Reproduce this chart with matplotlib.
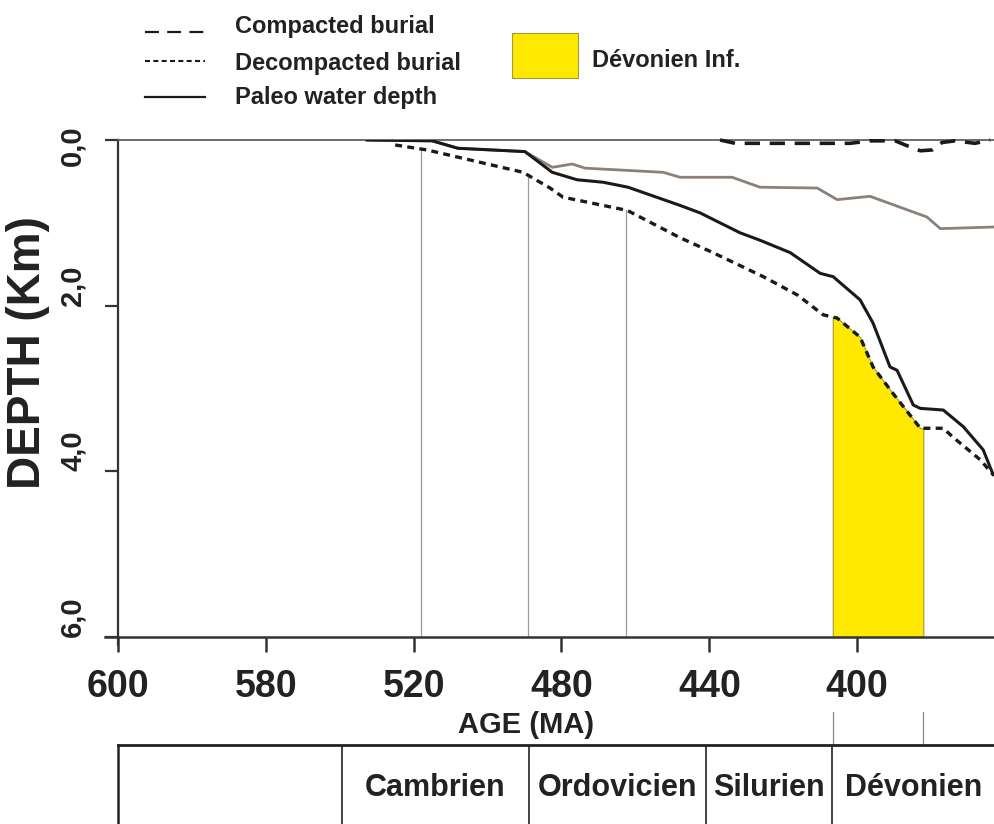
import matplotlib
matplotlib.use("Agg")
import matplotlib.pyplot as plt
from matplotlib.lines import Line2D
from matplotlib.patches import Rectangle
import numpy as np

plt.rcParams['font.family'] = ['Liberation Sans', 'DejaVu Sans']
plt.rcParams['font.weight'] = 'bold'
plt.rcParams['lines.scale_dashes'] = False

TXT = '#222222'

# --- data (age in Ma, depth in km) ---
gray_age = [532.6, 515.0, 508.0, 489.9, 482.5, 477.1, 473.6, 452.5, 447.9,
            433.8, 426.3, 410.8, 405.4, 396.5, 381.1, 377.5, 362.7]
gray_depth = [0.0, 0.01, 0.10, 0.14, 0.33, 0.29, 0.34, 0.39, 0.45,
              0.45, 0.57, 0.58, 0.72, 0.68, 0.93, 1.07, 1.05]

water_age = [532.6, 515.0, 508.0, 489.9, 482.5, 475.8, 468.7, 462.0, 447.9,
             442.5, 431.7, 426.3, 418.1, 410.0, 406.5, 399.2, 395.7, 391.1,
             389.2, 384.8, 382.9, 376.7, 371.3, 365.9, 363.2]
water_depth = [0.0, 0.01, 0.10, 0.14, 0.39, 0.48, 0.51, 0.57, 0.79,
               0.88, 1.12, 1.21, 1.36, 1.61, 1.65, 1.93, 2.21, 2.74,
               2.78, 3.20, 3.24, 3.26, 3.46, 3.74, 4.04]

decomp_age = [525.0, 516.4, 490.4, 483.1, 479.6, 462.2, 447.9, 439.0, 425.4,
              416.2, 409.2, 405.4, 399.2, 395.7, 390.3, 382.9, 376.7, 374.0,
              366.7, 363.2]
decomp_depth = [0.06, 0.12, 0.39, 0.58, 0.69, 0.85, 1.18, 1.36, 1.65,
                1.87, 2.11, 2.15, 2.38, 2.74, 3.06, 3.48, 3.48, 3.59,
                3.86, 4.04]

comp_age = [437.1, 433.0, 401.9, 396.5, 389.7, 387.0, 382.9, 379.7, 377.0,
            373.5, 368.1, 364.0]
comp_depth = [0.0, 0.04, 0.04, 0.01, 0.01, 0.06, 0.13, 0.12, 0.03,
              0.01, 0.04, 0.0]

stage_lines = [518.0, 489.0, 462.5]
dev_inf = (406.6, 382.1)

tick_pos = [600, 560, 520, 480, 440, 400]
tick_labels = ['600', '580', '520', '480', '440', '400']
ytick_pos = [0, 2, 4, 6]
ytick_labels = ['0,0', '2,0', '4,0', '6,0']

periods = ['Cambrien', 'Ordovicien', 'Silurien', 'Dévonien']
period_bounds = [539.4, 488.8, 440.9, 406.8, 362.7]

x_left, x_right = 600.0, 362.7

W, H = 995, 824
fig = plt.figure(figsize=(W / 100, H / 100), dpi=100)

def fx(px):
    return px / W

def fy(py):
    return 1 - py / H

ax = fig.add_axes([fx(118), fy(637), fx(995) - fx(118), fy(140) - fy(637)])
ax.set_xlim(x_left, x_right)
ax.set_ylim(6, 0)

# yellow interval (Dévonien Inf.) under the decompacted curve
fa = [dev_inf[0]] + [a for a in decomp_age if dev_inf[1] < a < dev_inf[0]] + [dev_inf[1]]
fd = np.interp(fa, decomp_age[::-1], decomp_depth[::-1])
ax.fill_between(fa, fd, 6, color='#ffe900', edgecolor='#a09a3c', lw=0.8, zorder=1)

# thin stage lines from the decompacted curve to the bottom
for a in stage_lines:
    top = np.interp(a, decomp_age[::-1], decomp_depth[::-1])
    ax.plot([a, a], [top, 6], color='#9a9a9a', lw=0.9, zorder=1)

ax.plot(gray_age, gray_depth, color='#8c8079', lw=2.0, zorder=2)
ax.plot(water_age, water_depth, color='#1a1a1a', lw=2.2, zorder=3)
ax.plot(decomp_age, decomp_depth, color='#1a1a1a', lw=2.4, dashes=(5, 3.8), zorder=3)
ax.plot(comp_age, comp_depth, color='#1a1a1a', lw=2.6, dashes=(11, 7), zorder=3,
        clip_on=False)

# spines
for s in ['right']:
    ax.spines[s].set_visible(False)
ax.spines['top'].set_color('#555555')
ax.spines['top'].set_linewidth(1.2)
ax.spines['left'].set_color('#333333')
ax.spines['left'].set_linewidth(1.6)
ax.spines['bottom'].set_color('#333333')
ax.spines['bottom'].set_linewidth(1.8)
# small overhangs at the lower-left corner
ax.plot([-0.015, 0], [0, 0], transform=ax.transAxes, color='#333333', lw=1.8, clip_on=False)
ax.plot([0, 0], [0, -0.016], transform=ax.transAxes, color='#333333', lw=1.6, clip_on=False)

ax.set_xticks(tick_pos)
ax.set_xticklabels(tick_labels, fontsize=27, fontweight='bold', color=TXT)
ax.tick_params(axis='x', direction='out', length=11, width=1.8, color='#333333', pad=12)

ax.set_yticks(ytick_pos)
ax.set_yticklabels([])
ax.tick_params(axis='y', direction='out', length=9.5, width=1.6, color='#333333')
ytr = ax.get_yaxis_transform()
for v, lab in zip(ytick_pos, ytick_labels):
    va = 'center' if v == 0 else 'bottom'
    ax.text(-0.0355, v + (0.07 if v == 0 else 0), lab, transform=ytr, rotation=90,
            ha='right', va=va, fontsize=21, fontweight='bold', color=TXT)

fig.text(fx(28), fy(353), 'DEPTH (Km)', rotation=90, ha='center', va='center',
         fontsize=33, fontweight='bold', color=TXT)
fig.text(fx(526), fy(733), 'AGE (MA)', ha='center', va='baseline',
         fontsize=21, fontweight='bold', color=TXT)

# --- stratigraphic table below ---
tb = fig.add_axes([fx(118), fy(874), fx(995) - fx(118), fy(745) - fy(874)])
tb.set_xlim(x_left, x_right)
tb.set_ylim(0, 1)
tb.set_xticks([])
tb.set_yticks([])
for s in ['right', 'bottom']:
    tb.spines[s].set_visible(False)
tb.spines['top'].set_linewidth(2.0)
tb.spines['left'].set_linewidth(1.8)
tb.spines['top'].set_color('#222222')
tb.spines['left'].set_color('#222222')
tb.patch.set_alpha(0)
for b in period_bounds[:-1]:
    tb.axvline(b, color='#222222', lw=1.2)
for i, name in enumerate(periods):
    c = (period_bounds[i] + period_bounds[i + 1]) / 2
    tb.text(c, 1 - 43 / 129, name, ha='center', va='center', fontsize=22,
            fontweight='bold', color=TXT)
for a in dev_inf:
    tb.plot([a, a], [1, 1 + 33 / 129], color='#888888', lw=0.9, clip_on=False)

# --- legend drawn by hand ---
leg = [((10, 6), 1.6, 32, 'Compacted burial', 33),
       ((3.6, 2.4), 1.5, 61, 'Decompacted burial', 70),
       (None, 1.6, 97, 'Paleo water depth', 104)]
for dash, lw, ly, lab, base in leg:
    ln = Line2D([fx(145), fx(205)], [fy(ly), fy(ly)], color='#1a1a1a', lw=lw,
                transform=fig.transFigure)
    if dash is not None:
        ln.set_dashes(dash)
    fig.add_artist(ln)
    fig.text(fx(235), fy(base), lab, ha='left', va='baseline', fontsize=17,
             fontweight='bold', color=TXT)

fig.add_artist(Rectangle((fx(512), fy(78)), fx(578) - fx(512), fy(33) - fy(78),
                         transform=fig.transFigure, facecolor='#ffe900',
                         edgecolor='#a09a3c', lw=0.8))
fig.text(fx(592), fy(67), 'Dévonien Inf.', ha='left', va='baseline', fontsize=17,
         fontweight='bold', color=TXT)

fig.savefig('out.png', dpi=100)
